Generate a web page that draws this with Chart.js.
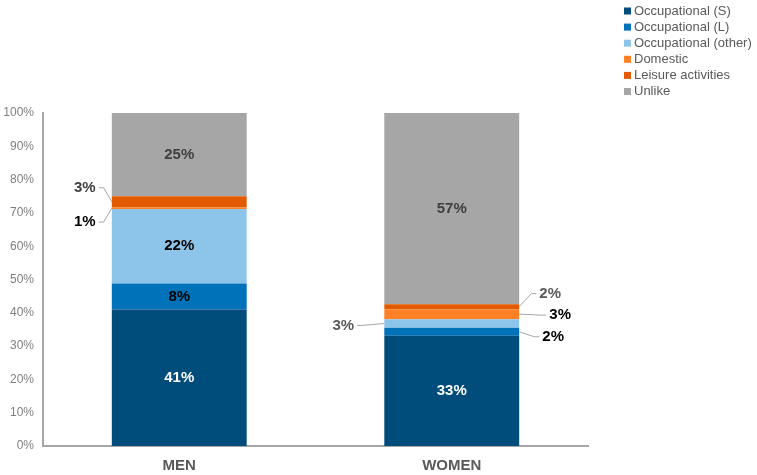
<!DOCTYPE html>
<html>
<head>
<meta charset="utf-8">
<script src="https://cdn.jsdelivr.net/npm/chart.js@4"></script>
<style>
  html, body { margin: 0; padding: 0; background: #ffffff; }
  #wrap { width: 757px; height: 475px; }
</style>
</head>
<body>
<div id="wrap"><canvas id="accidentChart" width="757" height="475"></canvas></div>
<script>
let categories = ["MEN", "WOMEN"];
let seriesNames = [
  "Occupational (S)",
  "Occupational (L)",
  "Occupational (other)",
  "Domestic",
  "Leisure activities",
  "Unlike",
];
let occupationalS = [41, 33.1];
let occupationalL = [7.8, 2.4];
let occupationalOther = [22.4, 2.6];
let domestic = [0.5, 3.0];
let leisure = [3.3, 1.5];
let unlike = [25, 57.4];
let yTicks = [0, 10, 20, 30, 40, 50, 60, 70, 80, 90, 100];

let seriesColors = ["#004c7a", "#0072ba", "#8dc4e9", "#ff8125", "#e35b00", "#a6a6a6"];

// label look per series, [men, women]; outside labels get an offset from the bar edge
let labelLook = [
  [{ color: "#ffffff" }, { color: "#ffffff" }],
  [{ color: "#000000" }, { color: "#000000", dx: 34, dy: 5 }],
  [{ color: "#000000" }, { color: "#595959", dx: -41, dy: 2 }],
  [{ color: "#000000", dx: -27, dy: 14 }, { color: "#000000", dx: 41, dy: 1 }],
  [{ color: "#404040", dx: -27, dy: -14 }, { color: "#595959", dx: 31, dy: -13 }],
  [{ color: "#404040" }, { color: "#404040" }],
];

let allSeries = [occupationalS, occupationalL, occupationalOther, domestic, leisure, unlike];

let datasets = allSeries.map(function (values, i) {
  return {
    label: seriesNames[i],
    data: values,
    backgroundColor: seriesColors[i],
    borderWidth: 0,
    barPercentage: 0.495,
    categoryPercentage: 1,
  };
});

const labelPlugin = {
  id: "segmentLabels",
  afterDatasetsDraw(chart) {
    let ctx = chart.ctx;
    ctx.save();
    ctx.font = "bold 15px 'Liberation Sans', Arial, sans-serif";
    ctx.textBaseline = "middle";
    chart.data.datasets.forEach(function (ds, di) {
      let meta = chart.getDatasetMeta(di);
      meta.data.forEach(function (bar, bi) {
        let look = labelLook[di][bi];
        let text = Math.round(ds.data[bi]) + "%";
        let midY = (bar.y + bar.base) / 2;
        if (look.dx === undefined) {
          ctx.fillStyle = look.color;
          ctx.textAlign = "center";
          ctx.fillText(text, bar.x, midY);
          return;
        }
        let half = bar.width / 2;
        let edgeX = look.dx < 0 ? bar.x - half : bar.x + half;
        let tx = edgeX + look.dx;
        let ty = midY + look.dy;
        let w = ctx.measureText(text).width;
        let sign = look.dx < 0 ? -1 : 1;
        let endX = tx - sign * (w / 2 + 3);
        let elbowX = sign < 0 ? endX + 5 : endX - 5;
        ctx.strokeStyle = "#a6a6a6";
        ctx.lineWidth = 1;
        ctx.beginPath();
        ctx.moveTo(edgeX, midY);
        ctx.lineTo(elbowX, ty);
        ctx.lineTo(endX, ty);
        ctx.stroke();
        ctx.fillStyle = look.color;
        ctx.textAlign = "center";
        ctx.fillText(text, tx, ty);
      });
    });
    ctx.restore();
  },
};

const legendPlugin = {
  id: "cornerLegend",
  afterDraw(chart) {
    let ctx = chart.ctx;
    ctx.save();
    ctx.font = "13px 'Liberation Sans', Arial, sans-serif";
    ctx.textBaseline = "middle";
    ctx.textAlign = "left";
    chart.data.datasets.forEach(function (ds, i) {
      let y = 11 + i * 16.1;
      ctx.fillStyle = ds.backgroundColor;
      ctx.fillRect(624, y - 3.5, 7, 7);
      ctx.fillStyle = "#595959";
      ctx.fillText(ds.label, 634, y);
    });
    ctx.restore();
  },
};

new Chart(document.getElementById("accidentChart"), {
  type: "bar",
  data: { labels: categories, datasets: datasets },
  plugins: [labelPlugin, legendPlugin],
  options: {
    responsive: false,
    animation: false,
    layout: { padding: { left: 0, top: 113, right: 169, bottom: 0 } },
    plugins: {
      legend: { display: false },
      tooltip: { enabled: false },
    },
    scales: {
      x: {
        stacked: true,
        grid: { display: false, drawTicks: false },
        border: { color: "#a6a6a6", width: 2 },
        ticks: {
          color: "#595959",
          padding: 11,
          font: { family: "'Liberation Sans', Arial, sans-serif", size: 15, weight: "bold" },
        },
        afterFit(scale) {
          scale.height = 29;
        },
      },
      y: {
        stacked: true,
        min: 0,
        max: 100,
        grid: { display: false, drawTicks: false },
        border: { color: "#a6a6a6", width: 2 },
        afterBuildTicks(scale) {
          scale.ticks = yTicks.map(function (v) {
            return { value: v };
          });
        },
        ticks: {
          color: "#7f7f7f",
          padding: 9,
          font: { family: "'Liberation Sans', Arial, sans-serif", size: 12 },
          callback: function (v) {
            return v + "%";
          },
        },
        afterFit(scale) {
          scale.width = 43;
        },
      },
    },
  },
});
</script>
</body>
</html>
